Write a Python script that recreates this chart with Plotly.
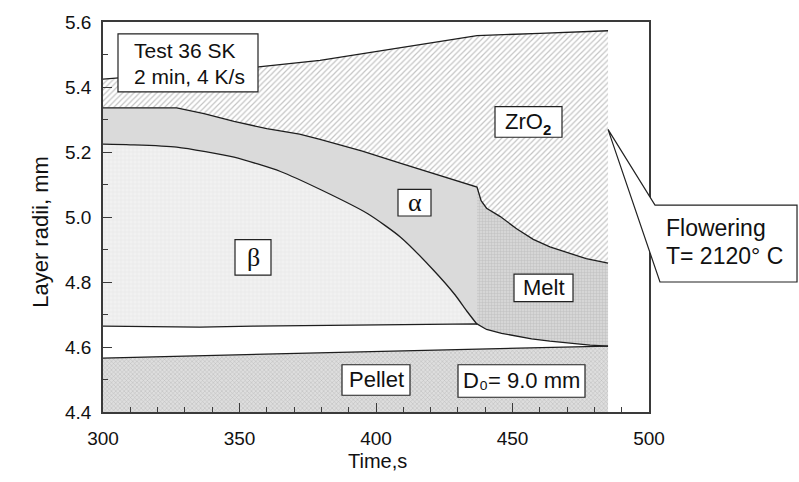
import plotly.graph_objects as go

# ---------------- data ----------------
# ZrO2 outer surface
t_top = [300, 357, 379.5, 437, 460, 485]
r_top = [5.424, 5.462, 5.482, 5.558, 5.565, 5.573]

# alpha / ZrO2 boundary, continued by melt / ZrO2 boundary
t_outer = [300, 315, 327, 337, 348, 360, 372, 379.5, 395, 410, 425, 437,
           438.5, 440.5, 445.4, 451.5, 457.6, 463.7, 469.9, 477, 485]
r_outer = [5.336, 5.336, 5.336, 5.318, 5.294, 5.272, 5.255, 5.239, 5.203, 5.163, 5.123, 5.092,
           5.050, 5.027, 5.002, 4.964, 4.931, 4.908, 4.891, 4.872, 4.858]

# beta / alpha boundary
t_ba = [300, 310, 327, 348, 365, 380, 397, 409, 421, 429, 433.3, 437]
r_ba = [5.224, 5.222, 5.215, 5.184, 5.140, 5.083, 5.010, 4.938, 4.837, 4.760, 4.710, 4.670]

# beta inner boundary, continued by melt inner boundary
t_inner = [300, 318, 335.5, 355, 379.5, 410, 437, 440.5, 446, 451.5, 457, 463.7, 471, 478.4, 485]
r_inner = [4.664, 4.662, 4.661, 4.664, 4.667, 4.669, 4.671, 4.654, 4.642, 4.633, 4.625, 4.618,
           4.611, 4.606, 4.603]

# pellet surface
t_pel = [300, 379.5, 437, 485]
r_pel = [4.566, 4.581, 4.593, 4.603]

t_melt_start = 437

# boxed labels
lab_text = ["", "α", "β", "Melt", "Pellet", "D₀= 9.0 mm"]
lab_size = [22, 26, 26, 22, 22, 22]
lab_font = ["Liberation Sans", "Liberation Serif", "Liberation Serif",
            "Liberation Sans", "Liberation Sans", "Liberation Sans"]
zro2_main, zro2_sub = "ZrO", "2"

test_lines = ["Test 36 SK", "2 min, 4 K/s"]
flower_lines = ["Flowering", "T= 2120° C"]

x_ticks = [300, 350, 400, 450, 500]
y_ticks = [4.4, 4.6, 4.8, 5.0, 5.2, 5.4, 5.6]

# ---------------- figure ----------------
SANS = "Liberation Sans, Arial, sans-serif"
LINE = "#1e1e1e"
fig = go.Figure()

# plot area in px: x 103..649, y 16..412
L, R, T, B = 103, 649, 16, 412
def pxp(x):
    return (x - L) / (R - L)
def pyp(y):
    return (B - y) / (B - T)

# label box extents in pixels (x0, x1, y0, y1)
lab_box = [(495, 562, 102, 133), (398, 431, 186, 213), (235, 271, 237, 273),
           (514, 573, 272, 300), (342, 410, 364, 395), (458, 585, 364, 397)]

def pick(ts, rs, cond):
    pairs = [(t, r) for t, r in zip(ts, rs) if cond(t)]
    return [p[0] for p in pairs], [p[1] for p in pairs]

def poly(t_up, r_up, t_lo, r_lo):
    return list(t_up) + list(t_lo)[::-1], list(r_up) + list(r_lo)[::-1]

# Pellet
fig.add_trace(go.Scatter(x=t_pel, y=r_pel, mode="lines", line=dict(width=0),
                         fill="tozeroy", fillcolor="#d6d6d6",
                         fillpattern=dict(shape="x", size=3, solidity=0.3,
                                          fgcolor="#959595", bgcolor="#dedede"),
                         hoverinfo="skip", showlegend=False))

# ZrO2
px, py = poly(t_top, r_top, t_outer, r_outer)
fig.add_trace(go.Scatter(x=px, y=py, mode="lines", line=dict(width=0), fill="toself",
                         fillcolor="#ffffff",
                         fillpattern=dict(shape="/", size=4, solidity=0.3,
                                          fgcolor="#8a8a8a", bgcolor="#ffffff"),
                         hoverinfo="skip", showlegend=False))

# alpha
to_a, ro_a = pick(t_outer, r_outer, lambda t: t <= t_melt_start)
px, py = poly(t_ba, r_ba, to_a, ro_a)
fig.add_trace(go.Scatter(x=px, y=py, mode="lines", line=dict(width=0), fill="toself",
                         fillcolor="#dadada", hoverinfo="skip", showlegend=False))

# beta
ti_b, ri_b = pick(t_inner, r_inner, lambda t: t <= t_melt_start)
px, py = poly(t_ba, r_ba, ti_b, ri_b)
fig.add_trace(go.Scatter(x=px, y=py, mode="lines", line=dict(width=0), fill="toself",
                         fillcolor="#f0f0f0",
                         fillpattern=dict(shape="+", size=4, solidity=0.15,
                                          fgcolor="#cbcbcb", bgcolor="#f1f1f1"),
                         hoverinfo="skip", showlegend=False))

# melt
to_m, ro_m = pick(t_outer, r_outer, lambda t: t >= t_melt_start)
ti_m, ri_m = pick(t_inner, r_inner, lambda t: t >= t_melt_start)
px, py = poly(to_m, ro_m, ti_m, ri_m)
fig.add_trace(go.Scatter(x=px, y=py, mode="lines", line=dict(width=0), fill="toself",
                         fillcolor="#cccccc",
                         fillpattern=dict(shape="+", size=3, solidity=0.3,
                                          fgcolor="#a6a6a6", bgcolor="#d6d6d6"),
                         hoverinfo="skip", showlegend=False))

# boundary lines
for tx, ry, shp in [(t_top, r_top, "linear"), (t_outer, r_outer, "linear"),
                    (t_ba, r_ba, "spline"), (t_inner, r_inner, "linear"),
                    (t_pel, r_pel, "linear")]:
    fig.add_trace(go.Scatter(x=tx, y=ry, mode="lines",
                             line=dict(color=LINE, width=1.3, shape=shp, smoothing=0.6),
                             hoverinfo="skip", showlegend=False))

# boxed labels (box = rect shape, text = annotation at the box centre)
for txt, (x0, x1, y0, y1), fs, fam in zip(lab_text, lab_box, lab_size, lab_font):
    fig.add_shape(type="rect", xref="paper", yref="paper",
                  x0=pxp(x0), x1=pxp(x1), y0=pyp(y1), y1=pyp(y0),
                  line=dict(color="#222", width=1.2), fillcolor="white", layer="above")
    if txt:
        fig.add_annotation(x=pxp((x0 + x1) / 2), y=pyp((y0 + y1) / 2), xref="paper", yref="paper",
                           text=txt, showarrow=False, xanchor="center", yanchor="middle",
                           font=dict(family=fam, size=fs, color="#111"))

# ZrO2 label with a bold subscript
fig.add_annotation(x=pxp(503), y=pyp(117), xref="paper", yref="paper", text=zro2_main,
                   showarrow=False, xanchor="left", yanchor="middle",
                   font=dict(family=SANS, size=22, color="#111"))
fig.add_annotation(x=pxp(541), y=pyp(125), xref="paper", yref="paper", text=zro2_sub,
                   showarrow=False, xanchor="left", yanchor="middle",
                   font=dict(family="Liberation Sans", size=15, color="#111", weight="bold"))

# test box
fig.add_shape(type="rect", xref="paper", yref="paper",
              x0=pxp(118), x1=pxp(258), y0=pyp(87), y1=pyp(28),
              line=dict(color="#222", width=1.2), fillcolor="white", layer="above")
for line_txt, yc in zip(test_lines, [45, 71]):
    fig.add_annotation(x=pxp(132), y=pyp(yc), xref="paper", yref="paper",
                       text=line_txt, showarrow=False, xanchor="left", yanchor="middle",
                       font=dict(family=SANS, size=21, color="#111"))

# Flowering callout
tip = (608, 125)
pts = [tip, (655, 202), (797, 202), (797, 280), (660, 280), tip]
path = "M " + " L ".join(f"{pxp(a):.4f},{pyp(b):.4f}" for a, b in pts)
fig.add_shape(type="path", path=path, xref="paper", yref="paper",
              line=dict(color="#222", width=1.2), fillcolor="white", layer="above")
for line_txt, yc in zip(flower_lines, [225, 254]):
    fig.add_annotation(x=pxp(664), y=pyp(yc), xref="paper", yref="paper",
                       text=line_txt, showarrow=False, xanchor="left", yanchor="middle",
                       font=dict(family=SANS, size=23, color="#111"))

# axis titles
fig.add_annotation(x=pxp(377), y=pyp(462), xref="paper", yref="paper", text="Time,s",
                   showarrow=False, xanchor="center", yanchor="middle",
                   font=dict(family=SANS, size=20, color="#111"))
fig.add_annotation(x=pxp(41), y=pyp(229), xref="paper", yref="paper", text="Layer radii, mm",
                   showarrow=False, xanchor="center", yanchor="middle", textangle=-90,
                   font=dict(family=SANS, size=22, color="#111"))

axis_common = dict(showline=True, linecolor="#3a3a3a", linewidth=1.5, mirror=True,
                   ticks="inside", ticklen=9, tickwidth=1.2, tickcolor="#3a3a3a",
                   showgrid=False, zeroline=False,
                   tickfont=dict(family=SANS, size=19, color="#111"))

fig.update_xaxes(range=[300, 500], tickvals=x_ticks, ticktext=[str(v) for v in x_ticks],
                 minor=dict(ticks="inside", ticklen=5, dtick=10, tickcolor="#3a3a3a", tickwidth=1),
                 ticklabelstandoff=8, **axis_common)
fig.update_yaxes(range=[4.4, 5.6], tickvals=y_ticks, ticktext=[f"{v:.1f}" for v in y_ticks],
                 minor=dict(ticks="inside", ticklen=5, dtick=0.1, tickcolor="#3a3a3a", tickwidth=1),
                 ticklabelstandoff=6, **axis_common)

fig.update_layout(width=799, height=482, margin=dict(l=L, r=799 - R, t=T, b=482 - B),
                  plot_bgcolor="white", paper_bgcolor="white", showlegend=False)

fig.write_html("out.html")
